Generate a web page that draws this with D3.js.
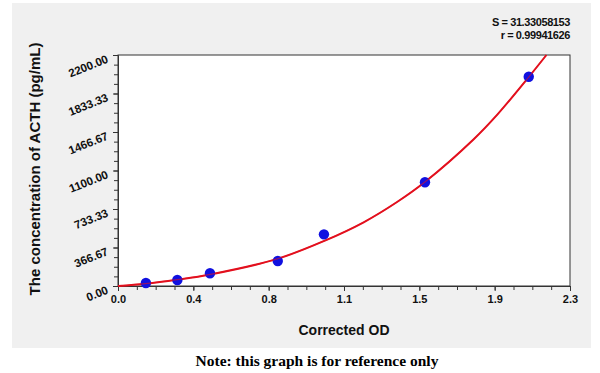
<!DOCTYPE html>
<html>
<head>
<meta charset="utf-8">
<script src="https://cdn.jsdelivr.net/npm/d3@7"></script>
<style>
  body { margin: 0; background: #fff; }
</style>
</head>
<body>
<div id="graphic"></div>
<script>
const WIDTH = 600;
const HEIGHT = 373;
const PLOT_LEFT = 118;
const PLOT_RIGHT = 570;
const PLOT_TOP = 55;
const PLOT_BOTTOM = 286;
const SANS = "Liberation Sans, Arial, sans-serif";
const SERIF = "Liberation Serif, Times New Roman, serif";

// standard points (Corrected OD, pg/mL)
const POINT_OD = [0.142, 0.302, 0.468, 0.813, 1.048, 1.562, 2.090];
const POINT_CONC = [29, 57, 121, 238, 492, 988, 1993];

// fitted curve
const CURVE_OD = [0, 0.14, 0.30, 0.47, 0.81, 1.05, 1.25, 1.42, 1.56, 1.81, 1.93, 2.09, 2.18];
const CURVE_CONC = [0, 22, 60, 110, 258, 430, 607, 800, 988, 1398, 1632, 1990, 2200];

const X_TICK_LABELS = ["0.0", "0.4", "0.8", "1.1", "1.5", "1.9", "2.3"];
const Y_TICK_LABELS = ["0.00", "366.67", "733.33", "1100.00", "1466.67", "1833.33", "2200.00"];
const X_MAX = 2.3;
const Y_MAX = 2200;
const MINOR_DIVS = 4;

const STATS = ["S = 31.33058153", "r = 0.99941626"];

var svg = d3.select("#graphic")
  .append("svg")
  .attr("width", WIDTH)
  .attr("height", HEIGHT)
  .style("font-family", SANS);

// grey panel behind the chart
svg.append("rect")
  .attr("x", 12).attr("y", 3)
  .attr("width", 579).attr("height", 345)
  .attr("fill", "#f0f0f0");

var xScale = d3.scaleLinear().domain([0, X_MAX]).range([PLOT_LEFT, PLOT_RIGHT]);
var yScale = d3.scaleLinear().domain([0, Y_MAX]).range([PLOT_BOTTOM, PLOT_TOP]);

svg.append("rect")
  .attr("x", PLOT_LEFT).attr("y", PLOT_TOP)
  .attr("width", PLOT_RIGHT - PLOT_LEFT)
  .attr("height", PLOT_BOTTOM - PLOT_TOP)
  .attr("fill", "#fff")
  .attr("stroke", "#333")
  .attr("stroke-width", 1);

var xMajor = X_TICK_LABELS.map((d, i) => X_MAX * i / (X_TICK_LABELS.length - 1));
var yMajor = Y_TICK_LABELS.map((d, i) => Y_MAX * i / (Y_TICK_LABELS.length - 1));
var xMinor = d3.range((xMajor.length - 1) * MINOR_DIVS + 1).map(i => X_MAX * i / ((xMajor.length - 1) * MINOR_DIVS));
var yMinor = d3.range((yMajor.length - 1) * MINOR_DIVS + 1).map(i => Y_MAX * i / ((yMajor.length - 1) * MINOR_DIVS));

// minor ticks
svg.append("g")
  .attr("transform", `translate(0, ${PLOT_BOTTOM})`)
  .call(d3.axisBottom(xScale).tickValues(xMinor).tickSize(4).tickFormat(""))
  .call(g => g.select(".domain").remove());
svg.append("g")
  .attr("transform", `translate(${PLOT_LEFT}, 0)`)
  .call(d3.axisLeft(yScale).tickValues(yMinor).tickSize(4).tickFormat(""))
  .call(g => g.select(".domain").remove());

// major ticks with labels
var xAxis = svg.append("g")
  .attr("transform", `translate(0, ${PLOT_BOTTOM})`)
  .call(d3.axisBottom(xScale).tickValues(xMajor).tickSize(5).tickPadding(4)
    .tickFormat((d, i) => X_TICK_LABELS[i]));
xAxis.select(".domain").attr("stroke", "#333");
xAxis.selectAll("text")
  .attr("font-size", 11).attr("font-weight", "bold").attr("fill", "#111")
  .attr("font-family", SANS);

var yAxis = svg.append("g")
  .attr("transform", `translate(${PLOT_LEFT}, 0)`)
  .call(d3.axisLeft(yScale).tickValues(yMajor).tickSize(5).tickFormat(""));
yAxis.select(".domain").attr("stroke", "#333");

svg.append("g")
  .selectAll("text")
  .data(yMajor)
  .join("text")
  .attr("transform", d => `translate(${PLOT_LEFT - 9}, ${yScale(d) + 7}) rotate(-22)`)
  .attr("text-anchor", "end")
  .attr("font-size", 11.5)
  .attr("font-weight", "bold")
  .attr("fill", "#111")
  .text((d, i) => Y_TICK_LABELS[i]);

svg.selectAll(".tick line").attr("stroke", "#333");

// fitted curve
var curveData = CURVE_OD.map((d, i) => ({ od: d, conc: CURVE_CONC[i] }));
var line = d3.line()
  .x(d => xScale(d.od))
  .y(d => yScale(d.conc))
  .curve(d3.curveCatmullRom.alpha(0.5));

svg.append("path")
  .datum(curveData)
  .attr("d", line)
  .attr("fill", "none")
  .attr("stroke", "#e3101e")
  .attr("stroke-width", 2);

// standard points
var pointData = POINT_OD.map((d, i) => ({ od: d, conc: POINT_CONC[i] }));
svg.append("g")
  .selectAll("circle")
  .data(pointData)
  .join("circle")
  .attr("cx", d => xScale(d.od))
  .attr("cy", d => yScale(d.conc))
  .attr("r", 5.2)
  .attr("fill", "#1010e0");

// thin copy of the curve over the dots
svg.append("path")
  .datum(curveData)
  .attr("d", line)
  .attr("fill", "none")
  .attr("stroke", "#e3101e")
  .attr("stroke-opacity", 0.6)
  .attr("stroke-width", 1.2);

// axis titles
svg.append("text")
  .attr("transform", `translate(40, 169) rotate(-90)`)
  .attr("text-anchor", "middle")
  .attr("font-size", 15)
  .attr("font-weight", "bold")
  .attr("fill", "#111")
  .text("The concentration of ACTH (pg/mL)");

svg.append("text")
  .attr("x", 344)
  .attr("y", 335)
  .attr("text-anchor", "middle")
  .attr("font-size", 14)
  .attr("font-weight", "bold")
  .attr("fill", "#111")
  .text("Corrected OD");

// fit statistics
svg.append("g")
  .selectAll("text")
  .data(STATS)
  .join("text")
  .attr("x", 570)
  .attr("y", (d, i) => 26 + i * 13)
  .attr("text-anchor", "end")
  .attr("font-size", 11)
  .attr("font-weight", "bold")
  .attr("letter-spacing", -0.4)
  .attr("fill", "#111")
  .text(d => d);

svg.append("text")
  .attr("x", 317)
  .attr("y", 366)
  .attr("text-anchor", "middle")
  .style("font-family", SERIF)
  .attr("font-size", 15.5)
  .attr("font-weight", "bold")
  .attr("fill", "#000")
  .text("Note: this graph is for reference only");
</script>
</body>
</html>
